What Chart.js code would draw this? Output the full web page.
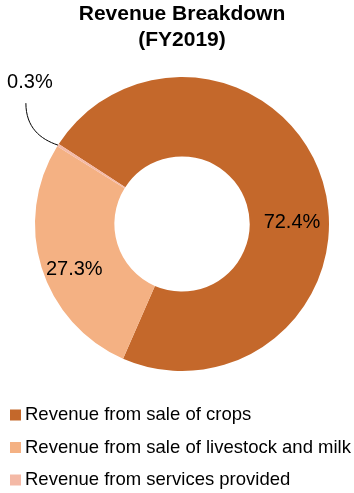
<!DOCTYPE html>
<html>
<head>
<meta charset="utf-8">
<script src="https://cdn.jsdelivr.net/npm/chart.js@4"></script>
<style>
  html, body { margin: 0; background: #fff; }
</style>
</head>
<body>
<canvas id="chart" width="354" height="493"></canvas>
<script>
const labels = [
  "Revenue from sale of crops",
  "Revenue from sale of livestock and milk",
  "Revenue from services provided",
];
const shares = [72.4, 27.3, 0.3];
const colors = ["#C4682B", "#F4B183", "#F4B9A6"];
const titleLines = ["Revenue Breakdown", "(FY2019)"];

// label placement: angle clockwise from 12 o'clock and distance from the centre
const labelAngle = [89, 247, 313];
const labelDist = [110, 117, 208];

const FONT = "'Liberation Sans', Arial, sans-serif";

const pieLabels = {
  id: "pieLabels",
  afterDatasetsDraw(chart) {
    const ctx = chart.ctx;
    const arcs = chart.getDatasetMeta(0).data;
    ctx.save();
    ctx.font = "20px " + FONT;
    ctx.fillStyle = "#000";
    ctx.textAlign = "center";
    ctx.textBaseline = "middle";
    arcs.forEach((arc, i) => {
      const { x, y, outerRadius, startAngle, endAngle } = arc.getProps(
        ["x", "y", "outerRadius", "startAngle", "endAngle"], true);
      const a = (labelAngle[i] - 90) * Math.PI / 180;
      const lx = x + labelDist[i] * Math.cos(a);
      const ly = y + labelDist[i] * Math.sin(a);
      ctx.fillText(shares[i].toFixed(1) + "%", lx, ly);
      if (labelDist[i] > outerRadius) {
        // leader line from the label down to the slice edge
        const mid = (startAngle + endAngle) / 2;
        const ex = x + outerRadius * Math.cos(mid);
        const ey = y + outerRadius * Math.sin(mid);
        const sx = lx - 4, sy = ly + 21;
        ctx.beginPath();
        ctx.strokeStyle = "#000";
        ctx.lineWidth = 1;
        ctx.moveTo(sx, sy);
        ctx.bezierCurveTo(sx, sy + 24, ex - 18, ey - 6, ex, ey);
        ctx.stroke();
      }
    });
    ctx.restore();
  },
};

const sideLegend = {
  id: "sideLegend",
  afterDraw(chart) {
    const ctx = chart.ctx;
    ctx.save();
    ctx.font = "18.5px " + FONT;
    ctx.textBaseline = "middle";
    labels.forEach((t, i) => {
      const y = 415 + i * 32.5;
      ctx.fillStyle = colors[i];
      ctx.fillRect(10, y - 5.5, 11, 11);
      ctx.fillStyle = "#000";
      ctx.fillText(t, 25, y);
    });
    ctx.restore();
  },
};

new Chart(document.getElementById("chart"), {
  type: "doughnut",
  data: {
    labels: labels,
    datasets: [{
      data: shares,
      backgroundColor: colors,
      borderWidth: 0,
      hoverOffset: 0,
      offset: 0,
    }],
  },
  options: {
    responsive: false,
    animation: false,
    cutout: "46%",
    rotation: -57,
    layout: { padding: { left: 10, right: 0, top: 0, bottom: 122 } },
    plugins: {
      legend: { display: false },
      tooltip: { enabled: false },
      title: {
        display: true,
        text: titleLines,
        color: "#000",
        font: { family: FONT, size: 21, weight: "bold", lineHeight: 1.2 },
        padding: { top: 2, bottom: 24.6 },
      },
    },
  },
  plugins: [pieLabels, sideLegend],
});
</script>
</body>
</html>
